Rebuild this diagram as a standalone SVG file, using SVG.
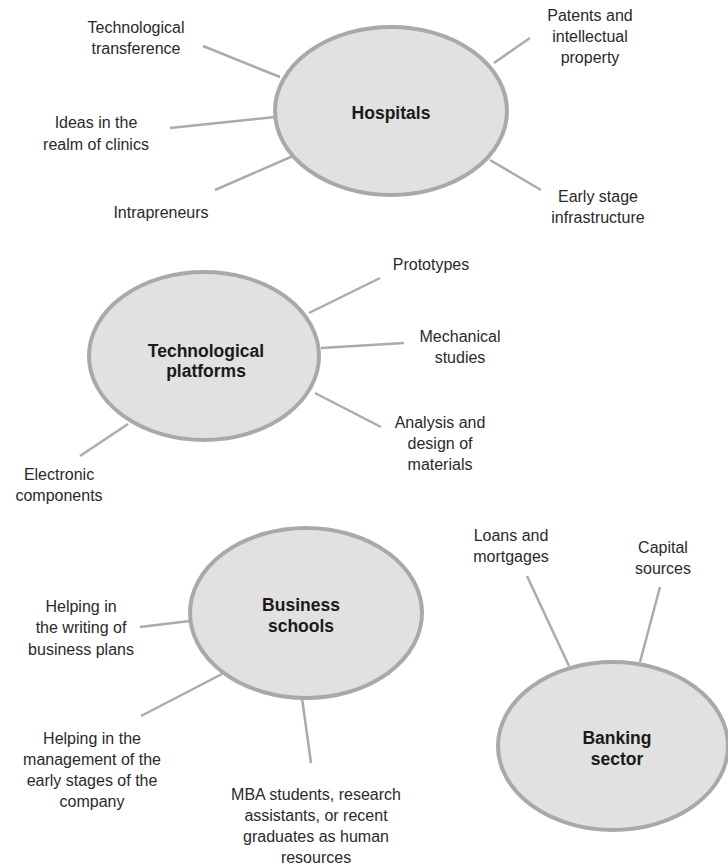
<svg xmlns="http://www.w3.org/2000/svg" width="728" height="865" viewBox="0 0 728 865">
<style>
.node{fill:#e1e1e1;stroke:#a9a9a9;stroke-width:4}
.lbl{font-family:"Liberation Sans",Arial,sans-serif;font-size:17.5px;font-weight:bold;fill:#1a1a1a;text-anchor:middle}
.t{font-family:"Liberation Sans",Arial,sans-serif;font-size:16px;fill:#2a2a2a;text-anchor:middle}
.c line{stroke:#ababab;stroke-width:2.5;stroke-linecap:butt}
</style>
<rect width="728" height="865" fill="#ffffff"/>
<g class="c" id="connectors">
<line x1="203" y1="46" x2="280" y2="77"/>
<line x1="530" y1="38" x2="494" y2="63"/>
<line x1="170" y1="128" x2="275" y2="117"/>
<line x1="215" y1="190" x2="293" y2="156"/>
<line x1="541" y1="190" x2="490" y2="160"/>
<line x1="309" y1="313" x2="380" y2="278"/>
<line x1="321" y1="348" x2="404" y2="343"/>
<line x1="315" y1="393" x2="381" y2="427"/>
<line x1="128" y1="424" x2="80" y2="456"/>
<line x1="140" y1="627" x2="190" y2="621"/>
<line x1="141" y1="716" x2="222" y2="674"/>
<line x1="302" y1="698" x2="311" y2="763"/>
<line x1="527" y1="576" x2="569" y2="666"/>
<line x1="660" y1="587" x2="640" y2="662"/>
</g>
<g id="hospitals">
<ellipse class="node" cx="391" cy="111" rx="116" ry="84"/>
<text class="lbl" x="391" y="119">Hospitals</text>
</g>
<g id="tech-platforms">
<ellipse class="node" cx="204" cy="356" rx="115" ry="84"/>
<text class="lbl" x="206" y="357">Technological</text>
<text class="lbl" x="206" y="377">platforms</text>
</g>
<g id="business-schools">
<ellipse class="node" cx="306" cy="613" rx="116" ry="85"/>
<text class="lbl" x="301" y="611">Business</text>
<text class="lbl" x="301" y="632">schools</text>
</g>
<g id="banking-sector">
<ellipse class="node" cx="613" cy="746" rx="115" ry="84"/>
<text class="lbl" x="617" y="744">Banking</text>
<text class="lbl" x="617" y="765">sector</text>
</g>
<g id="labels">
<text class="t" x="136" y="33">Technological</text>
<text class="t" x="136" y="54">transference</text>
<text class="t" x="590" y="21">Patents and</text>
<text class="t" x="590" y="42">intellectual</text>
<text class="t" x="590" y="63">property</text>
<text class="t" x="96" y="128">Ideas in the</text>
<text class="t" x="96" y="150">realm of clinics</text>
<text class="t" x="161" y="218">Intrapreneurs</text>
<text class="t" x="598" y="202">Early stage</text>
<text class="t" x="598" y="223">infrastructure</text>
<text class="t" x="431" y="270">Prototypes</text>
<text class="t" x="460" y="342">Mechanical</text>
<text class="t" x="460" y="363">studies</text>
<text class="t" x="440" y="428">Analysis and</text>
<text class="t" x="440" y="449">design of</text>
<text class="t" x="440" y="470">materials</text>
<text class="t" x="59" y="480">Electronic</text>
<text class="t" x="59" y="501">components</text>
<text class="t" x="81" y="612">Helping in</text>
<text class="t" x="81" y="633">the writing of</text>
<text class="t" x="81" y="655">business plans</text>
<text class="t" x="92" y="744">Helping in the</text>
<text class="t" x="92" y="765">management of the</text>
<text class="t" x="92" y="786">early stages of the</text>
<text class="t" x="92" y="807">company</text>
<text class="t" x="316" y="800">MBA students, research</text>
<text class="t" x="316" y="821">assistants, or recent</text>
<text class="t" x="316" y="842">graduates as human</text>
<text class="t" x="316" y="863">resources</text>
<text class="t" x="511" y="541">Loans and</text>
<text class="t" x="511" y="562">mortgages</text>
<text class="t" x="663" y="553">Capital</text>
<text class="t" x="663" y="574">sources</text>
</g>
</svg>
